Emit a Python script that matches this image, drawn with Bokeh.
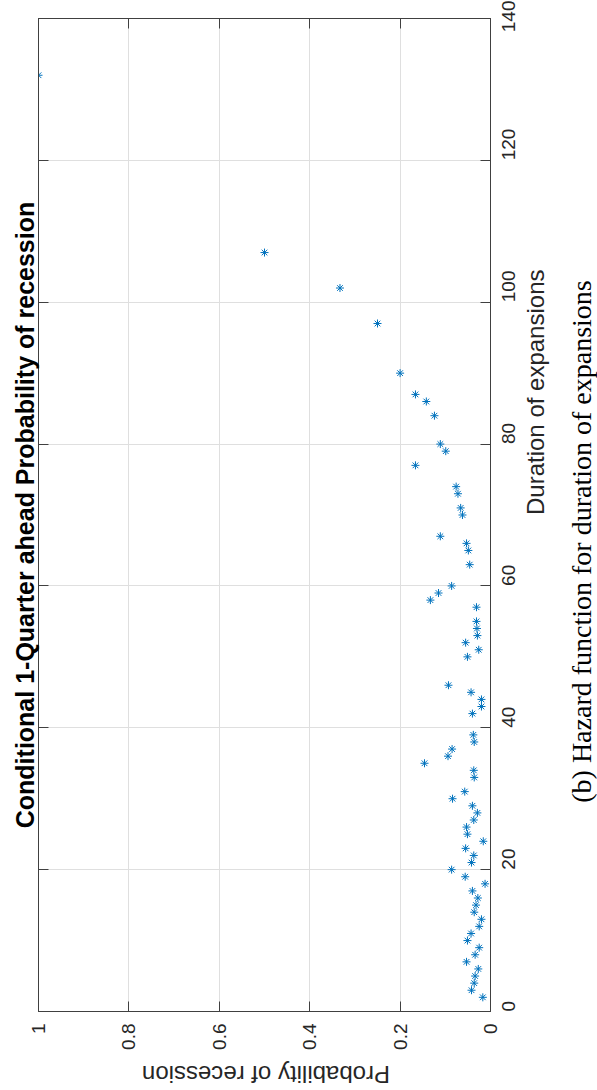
import math
from bokeh.plotting import figure
from bokeh.layouts import row, column
from bokeh.models import LinearAxis, Range1d, FixedTicker, Label
from bokeh.embed import file_html
from bokeh.resources import INLINE

# ---- data ----
duration = [2, 3, 4, 5, 6, 7, 8, 9, 10, 11, 12, 13, 14, 15, 16, 17, 18, 19, 20,
            21, 22, 23, 24, 25, 26, 27, 28, 29, 30, 31, 33, 34, 35, 36, 37, 38,
            39, 42, 43, 44, 45, 46, 50, 51, 52, 53, 54, 55, 57, 58, 59, 60, 63,
            65, 66, 67, 70, 71, 73, 74, 77, 79, 80, 84, 86, 87, 90, 97, 102,
            107, 132]
probability = [0.017, 0.042, 0.036, 0.034, 0.027, 0.053, 0.034, 0.025, 0.051,
               0.043, 0.025, 0.020, 0.036, 0.032, 0.028, 0.040, 0.012, 0.056,
               0.086, 0.042, 0.037, 0.055, 0.016, 0.051, 0.053, 0.037, 0.029,
               0.040, 0.084, 0.057, 0.036, 0.037, 0.146, 0.094, 0.085, 0.036,
               0.038, 0.040, 0.020, 0.020, 0.043, 0.093, 0.051, 0.026, 0.055,
               0.029, 0.030, 0.031, 0.031, 0.133, 0.115, 0.086, 0.046, 0.049,
               0.053, 0.111, 0.062, 0.066, 0.072, 0.076, 0.166, 0.099, 0.111,
               0.124, 0.142, 0.166, 0.200, 0.250, 0.333, 0.500, 1.000]

prob_ticks = [0, 0.2, 0.4, 0.6, 0.8, 1]
prob_tick_labels = ["0", "0.2", "0.4", "0.6", "0.8", "1"]
dur_ticks = [0, 20, 40, 60, 80, 100, 120, 140]
dur_tick_labels = ["0", "20", "40", "60", "80", "100", "120", "140"]

title_text = "Conditional 1-Quarter ahead Probability of recession"
xlabel_text = "Duration of expansions"
ylabel_text = "Probability of recession"
caption_text = "(b) Hazard function for duration of expansions"

SANS = "Liberation Sans"
AX = "#404040"
BLUE = "#0072BD"
TICK_FS = "19px"
LABEL_FS = "24px"

W, H = 597, 1090
CAP_W = 32                  # right strip: figure caption
BOT_H = 32                  # bottom strip: label of the probability axis
MAIN_W = W - CAP_W
MAIN_H = H - BOT_H
FRAME_R, FRAME_B = 493, 1011
ML, MT = 38, 18
MR = MAIN_W - FRAME_R
MB = MAIN_H - FRAME_B
FW = FRAME_R - ML
FH = FRAME_B - MT


def blank(fig):
    fig.outline_line_color = None
    fig.background_fill_color = "white"
    fig.border_fill_color = "white"
    fig.xgrid.visible = False
    fig.ygrid.visible = False


p = figure(width=MAIN_W, height=MAIN_H,
           x_range=Range1d(1, 0), y_range=Range1d(0, 140),
           y_axis_location="right",
           title=title_text, title_location="left",
           output_backend="svg", toolbar_location=None,
           min_border_left=ML, min_border_right=MR,
           min_border_top=MT, min_border_bottom=MB)

p.background_fill_color = "white"
p.border_fill_color = "white"
p.outline_line_color = AX
p.outline_line_width = 1

p.title.text_font = SANS
p.title.text_font_size = "25px"
p.title.text_font_style = "bold"
p.title.text_color = "black"
p.title.align = "center"
p.title.standoff = 0
p.title.offset = 0

# grids
p.xgrid.ticker = FixedTicker(ticks=prob_ticks)
p.ygrid.ticker = FixedTicker(ticks=dur_ticks)
for g in (p.xgrid, p.ygrid):
    g.grid_line_color = "#dfdfdf"
    g.grid_line_width = 1

# bottom axis (probability); its title is drawn in the bottom strip
xa = p.xaxis[0]
xa.ticker = FixedTicker(ticks=prob_ticks)
xa.major_label_overrides = dict(zip(prob_ticks, prob_tick_labels))
xa.major_label_orientation = math.pi / 2
xa.major_label_standoff = 12

# right axis (duration)
ya = p.yaxis[0]
ya.ticker = FixedTicker(ticks=dur_ticks)
ya.major_label_overrides = dict(zip(dur_ticks, dur_tick_labels))
ya.major_label_orientation = math.pi / 2
ya.major_label_standoff = 18
ya.axis_label = xlabel_text
ya.axis_label_orientation = math.pi / 2
ya.axis_label_standoff = 11

for a in (xa, ya):
    a.major_tick_in = 10
    a.major_tick_out = 0
    a.minor_tick_line_color = None
    a.axis_line_color = AX
    a.major_tick_line_color = AX
    a.major_label_text_font = SANS
    a.major_label_text_font_size = TICK_FS
    a.major_label_text_color = "#262626"
    a.axis_label_text_font = SANS
    a.axis_label_text_font_size = LABEL_FS
    a.axis_label_text_font_style = "normal"
    a.axis_label_text_color = "#262626"

# mirrored tick marks (box on)
left_ax = LinearAxis(ticker=FixedTicker(ticks=dur_ticks))
top_ax = LinearAxis(ticker=FixedTicker(ticks=prob_ticks))
for a in (left_ax, top_ax):
    a.major_tick_in = 10
    a.major_tick_out = 0
    a.minor_tick_line_color = None
    a.axis_line_color = AX
    a.major_tick_line_color = AX
    a.major_label_text_color = None
    a.major_label_text_font_size = "1px"
    a.major_label_standoff = 0
p.add_layout(left_ax, "left")
p.add_layout(top_ax, "above")

p.scatter(x=probability, y=duration, marker="asterisk", size=8,
          line_color=BLUE, line_width=1)

# right strip: the (rotated) figure caption
cap = figure(width=CAP_W, height=MAIN_H, x_axis_type=None, y_axis_type=None,
             output_backend="svg", toolbar_location=None,
             min_border_left=0, min_border_right=0,
             min_border_top=MT, min_border_bottom=MB)
blank(cap)
cap.add_layout(Label(x=CAP_W / 2, y=FH * 0.4733, x_units="screen", y_units="screen",
                     text=caption_text, angle=math.pi / 2,
                     text_align="center", text_baseline="middle",
                     text_font="Liberation Serif", text_font_size="28px",
                     text_color="black"))

# bottom strip: upside-down title of the probability axis
bot = figure(width=W, height=BOT_H, x_axis_type=None, y_axis_type=None,
             output_backend="svg", toolbar_location=None,
             min_border_left=ML, min_border_right=W - FRAME_R,
             min_border_top=0, min_border_bottom=0)
blank(bot)
bot.add_layout(Label(x=FW / 2, y=BOT_H / 2, x_units="screen", y_units="screen",
                     text=ylabel_text, angle=math.pi,
                     text_align="center", text_baseline="middle",
                     text_font=SANS, text_font_size=LABEL_FS,
                     text_color="#262626"))

layout = column(row(p, cap, spacing=0), bot, spacing=0)
open("out.html", "w").write(file_html(layout, INLINE))
